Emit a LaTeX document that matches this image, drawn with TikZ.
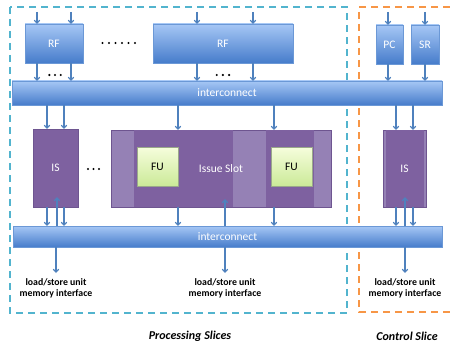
\documentclass[tikz,border=0pt]{standalone}
\usepackage{fontspec}
\setmainfont{Carlito}
\usetikzlibrary{arrows.meta,shadows}

\definecolor{bluetop}{HTML}{A6C7F5}
\definecolor{bluebot}{HTML}{467CCB}
\definecolor{blueedge}{HTML}{6B98D6}
\definecolor{purpdark}{HTML}{7E61A0}
\definecolor{purplight}{HTML}{9581B5}
\definecolor{purpedge}{HTML}{6E5590}
\definecolor{futop}{HTML}{F6FDDC}
\definecolor{fubot}{HTML}{CBEA98}
\definecolor{fuedge}{HTML}{9AA88A}
\definecolor{arrowc}{HTML}{4F81BD}
\definecolor{aqua}{HTML}{52B4CE}
\definecolor{orng}{HTML}{F79646}

\tikzset{
  box/.style={rectangle, anchor=north west, inner sep=0pt, outer sep=0pt},
  boxfont/.style={font=\fontsize{11.5}{13}\selectfont},
  bluebox/.style={box, boxfont, top color=bluetop, bottom color=bluebot, draw=blueedge,
    line width=0.4pt, text=white,
    drop shadow={opacity=0.25, shadow xshift=1pt, shadow yshift=-1.2pt}},
  purpbox/.style={box, boxfont, fill=purpdark, draw=purpedge, line width=0.5pt,
    text=white},
  purplite/.style={box, fill=purplight, draw=purpedge, line width=0.5pt},
  purpcore/.style={box, fill=purpdark},
  fubox/.style={box, boxfont, top color=futop, bottom color=fubot, draw=fuedge,
    line width=0.5pt,
    drop shadow={opacity=0.25, shadow xshift=1pt, shadow yshift=-1.2pt}},
  arr/.style={draw=arrowc, line width=1.1pt,
    -{Straight Barb[length=3pt,width=5.5pt]}},
  memlabel/.style={align=center, font=\bfseries\fontsize{9.8}{11}\selectfont},
  slicelabel/.style={font=\bfseries\itshape\fontsize{12}{14}\selectfont},
  dotmark/.style={circle, fill=black, inner sep=0pt, minimum size=2.4pt},
  frame/.style={line width=1.4pt, dash pattern=on 7pt off 5pt},
}

\begin{document}
\begin{tikzpicture}[x=1pt, y=-1pt]
\useasboundingbox (0,0) rectangle (450,345);

% slice frames
\draw[frame, draw=aqua] (10,7) rectangle (347,313);
\draw[frame, draw=orng] (450,7) -- (359,7) -- (359,312) -- (450,312);

% register files and control registers
\node[bluebox, minimum width=58pt, minimum height=39pt] (rf1) at (25,24) {RF};
\node[bluebox, minimum width=140pt, minimum height=39pt] (rf2) at (153,24) {RF};
\node[bluebox, minimum width=27pt, minimum height=39pt] (pc) at (376,25) {PC};
\node[bluebox, minimum width=28pt, minimum height=39pt] (sr) at (411,25) {SR};

% interconnects
\node[bluebox, minimum width=430pt, minimum height=24pt] (ic1) at (12,81) {interconnect};
\node[bluebox, minimum width=429pt, minimum height=21pt] (ic2) at (13,226) {interconnect};

% issue slots
\node[purpbox, minimum width=45pt, minimum height=78pt] (is1) at (33,129) {IS};
\node[purplite, minimum width=220pt, minimum height=77pt] (slot) at (111,130) {};
\node[purpcore, minimum width=99pt, minimum height=77pt] (core1) at (134,130) {};
\node[purpcore, minimum width=48pt, minimum height=77pt] (core2) at (266,130) {};
\node[fubox, minimum width=41pt, minimum height=39pt] (fu1) at (137,147) {FU};
\node[fubox, minimum width=41pt, minimum height=39pt] (fu2) at (271,147) {FU};
\node[boxfont, text=white] (slotlabel) at (221,169) {Issue Slot};
\node[purplite, minimum width=43pt, minimum height=77pt] (is2) at (383,130) {};
\node[purpcore, minimum width=38pt, minimum height=77pt] (is2core) at (385.5,130) {};
\node[boxfont, text=white] (is2label) at (404.5,169) {IS};

% ellipses
\foreach \i in {0,...,5} \node[dotmark] (rfdot\i) at (102.5+6.5*\i,43) {};
\foreach \i in {0,1,2} {
  \node[dotmark] (da\i) at (49.3+5.7*\i,75) {};
  \node[dotmark] (db\i) at (216.7+6.2*\i,75) {};
  \node[dotmark] (dc\i) at (88+5.5*\i,169) {};
}

% column positions
\coordinate (c37) at (37,12);   \coordinate (c71) at (71,12);
\coordinate (c197) at (197,12); \coordinate (c253) at (253,12);
\coordinate (c388) at (388,12); \coordinate (c425) at (425,12);
\coordinate (c47) at (47,0);    \coordinate (c64) at (64,0);
\coordinate (c178) at (178,0);  \coordinate (c274) at (274,0);
\coordinate (c396) at (396,0);  \coordinate (c413) at (413,0);
\coordinate (u57) at (57,197);  \coordinate (u225) at (225,199);
\coordinate (u405) at (405,197);
\coordinate (m56) at (56,273);  \coordinate (m225) at (225,273);
\coordinate (m405) at (405,273);

% inputs of the register files
\draw[arr] (c37) -- (c37 |- rf1.north);
\draw[arr] (c71) -- (c71 |- rf1.north);
\draw[arr] (c197) -- (c197 |- rf2.north);
\draw[arr] (c253) -- (c253 |- rf2.north);
\draw[arr] (c388) -- (c388 |- pc.north);
\draw[arr] (c425) -- (c425 |- sr.north);

% register files to the first interconnect
\draw[arr] (rf1.south -| c37) -- (ic1.north -| c37);
\draw[arr] (rf1.south -| c71) -- (ic1.north -| c71);
\draw[arr] (rf2.south -| c197) -- (ic1.north -| c197);
\draw[arr] (rf2.south -| c253) -- (ic1.north -| c253);
\draw[arr] (pc.south -| c388) -- (ic1.north -| c388);
\draw[arr] (sr.south -| c425) -- (ic1.north -| c425);

% first interconnect to the issue slots
\draw[arr] (ic1.south -| c47) -- (is1.north -| c47);
\draw[arr] (ic1.south -| c64) -- (is1.north -| c64);
\draw[arr] (ic1.south -| c178) -- (slot.north -| c178);
\draw[arr] (ic1.south -| c274) -- (slot.north -| c274);
\draw[arr] (ic1.south -| c396) -- (is2.north -| c396);
\draw[arr] (ic1.south -| c413) -- (is2.north -| c413);

% issue slots to the second interconnect
\draw[arr] (is1.south -| c47) -- (ic2.north -| c47);
\draw[arr] (is1.south -| c64) -- (ic2.north -| c64);
\draw[arr] (slot.south -| c178) -- (ic2.north -| c178);
\draw[arr] (slot.south -| c274) -- (ic2.north -| c274);
\draw[arr] (is2.south -| c396) -- (ic2.north -| c396);
\draw[arr] (is2.south -| c413) -- (ic2.north -| c413);

% results back into the issue slots
\draw[arr] (ic2.north -| u57) -- (u57);
\draw[arr] (ic2.north -| u225) -- (u225);
\draw[arr] (ic2.north -| u405) -- (u405);

% memory interfaces
\draw[arr] (ic2.south -| m56) -- (m56);
\draw[arr] (ic2.south -| m225) -- (m225);
\draw[arr] (ic2.south -| m405) -- (m405);
\node[memlabel] (mem1) at (56,288.5) {load/store unit\\memory interface};
\node[memlabel] (mem2) at (225,288.5) {load/store unit\\memory interface};
\node[memlabel] (mem3) at (405,288.5) {load/store unit\\memory interface};

% slice captions
\node[slicelabel] (plabel) at (190,336) {Processing Slices};
\node[slicelabel] (clabel) at (407,336) {Control Slice};
\end{tikzpicture}
\end{document}
